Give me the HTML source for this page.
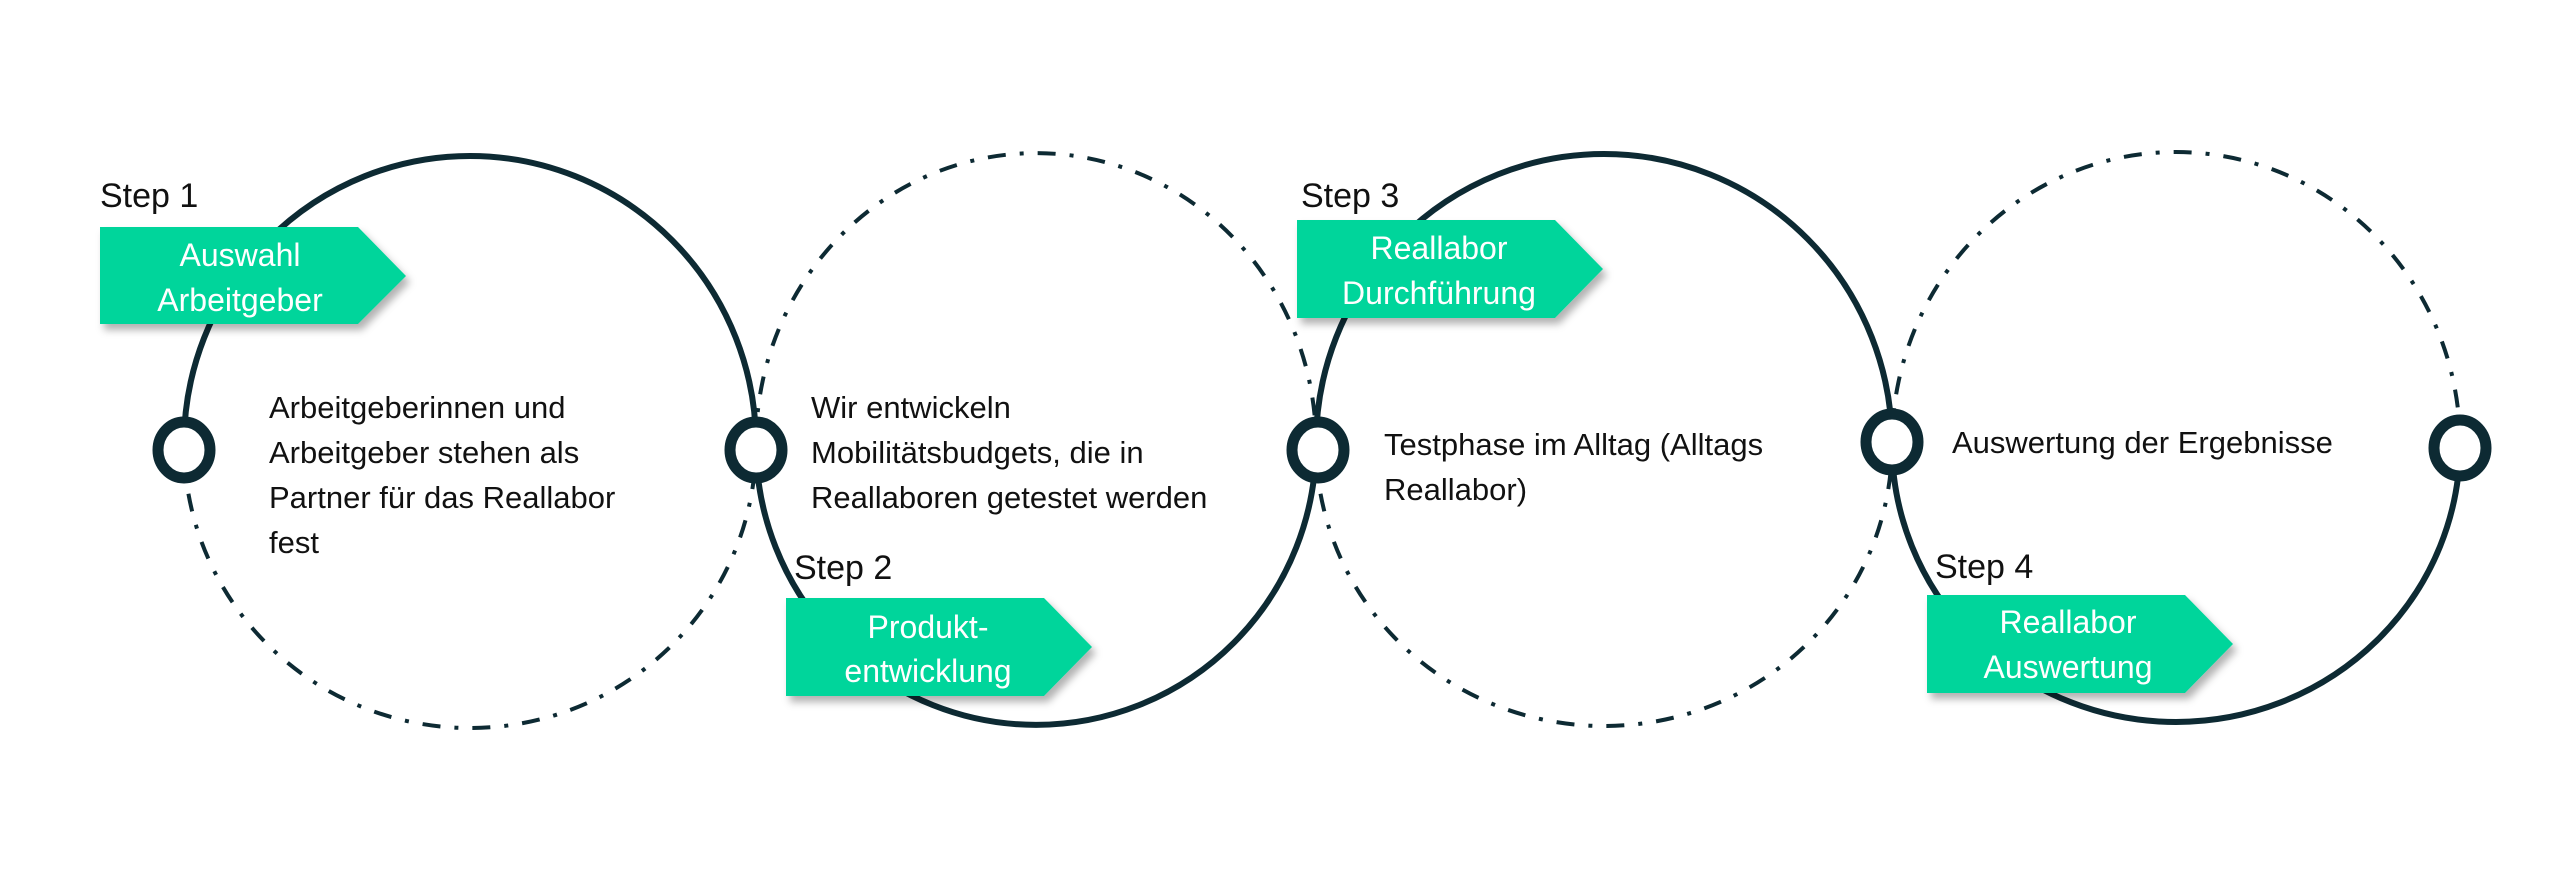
<!DOCTYPE html>
<html><head><meta charset="utf-8"><style>
html,body{margin:0;padding:0;background:#fff;}
svg{display:block;}
text{font-family:"Liberation Sans",sans-serif;}
</style></head><body>
<svg width="2560" height="876" viewBox="0 0 2560 876" xmlns="http://www.w3.org/2000/svg">
<defs>
<filter id="sh" x="-10%" y="-10%" width="130%" height="140%">
<feDropShadow dx="4" dy="6" stdDeviation="4" flood-color="#000" flood-opacity="0.3"/>
</filter>
</defs>
<g fill="none" stroke="#0d2a33" stroke-width="6">
<path d="M184 444 A286 288 0 0 1 756 444"/>
<path d="M184 444 A286 284 0 0 0 756 444" stroke-width="4" stroke-dasharray="18 14 4 14"/>
<path d="M756 444 A279 290 0 0 1 1316 444" stroke-width="4" stroke-dasharray="18 14 4 14"/>
<path d="M756 444 A279 280 0 0 0 1316 444"/>
<path d="M1316 444 A288 290 0 0 1 1892 444"/>
<path d="M1316 444 A288 282 0 0 0 1892 444" stroke-width="4" stroke-dasharray="18 14 4 14"/>
<path d="M1892 444 A284 292 0 0 1 2460 444" stroke-width="4" stroke-dasharray="18 14 4 14"/>
<path d="M1892 444 A284 278 0 0 0 2460 444"/>
</g>
<g fill="#fff" stroke="#0d2a33" stroke-width="11">
<ellipse cx="184" cy="450" rx="26" ry="28"/>
<ellipse cx="756" cy="450" rx="26" ry="28"/>
<ellipse cx="1318" cy="450" rx="26" ry="28"/>
<ellipse cx="1892" cy="442" rx="26" ry="28"/>
<ellipse cx="2460" cy="448" rx="26" ry="28"/>
</g>
<g fill="#02d59b" filter="url(#sh)">
<polygon points="100,227 358,227 406,276 358,324 100,324"/>
<polygon points="786,598 1044,598 1092,647 1044,696 786,696"/>
<polygon points="1297,220 1555,220 1603,269 1555,318 1297,318"/>
<polygon points="1927,595 2185,595 2233,644 2185,693 1927,693"/>
</g>
<g fill="#fff" font-size="32" text-anchor="middle">
<text x="240" y="266">Auswahl</text>
<text x="240" y="311">Arbeitgeber</text>
<text x="928" y="638">Produkt-</text>
<text x="928" y="682">entwicklung</text>
<text x="1439" y="259">Reallabor</text>
<text x="1439" y="304">Durchführung</text>
<text x="2068" y="633">Reallabor</text>
<text x="2068" y="678">Auswertung</text>
</g>
<g fill="#111" font-size="34">
<text x="100" y="207">Step 1</text>
<text x="794" y="579">Step 2</text>
<text x="1301" y="207">Step 3</text>
<text x="1935" y="578">Step 4</text>
</g>
<g fill="#111" font-size="31">
<text x="269" y="418">Arbeitgeberinnen und</text>
<text x="269" y="463">Arbeitgeber stehen als</text>
<text x="269" y="508">Partner für das Reallabor</text>
<text x="269" y="553">fest</text>
<text x="811" y="418">Wir entwickeln</text>
<text x="811" y="463">Mobilitätsbudgets, die in</text>
<text x="811" y="508">Reallaboren getestet werden</text>
<text x="1384" y="455">Testphase im Alltag (Alltags</text>
<text x="1384" y="500">Reallabor)</text>
<text x="1952" y="453">Auswertung der Ergebnisse</text>
</g>
</svg>
</body></html>
